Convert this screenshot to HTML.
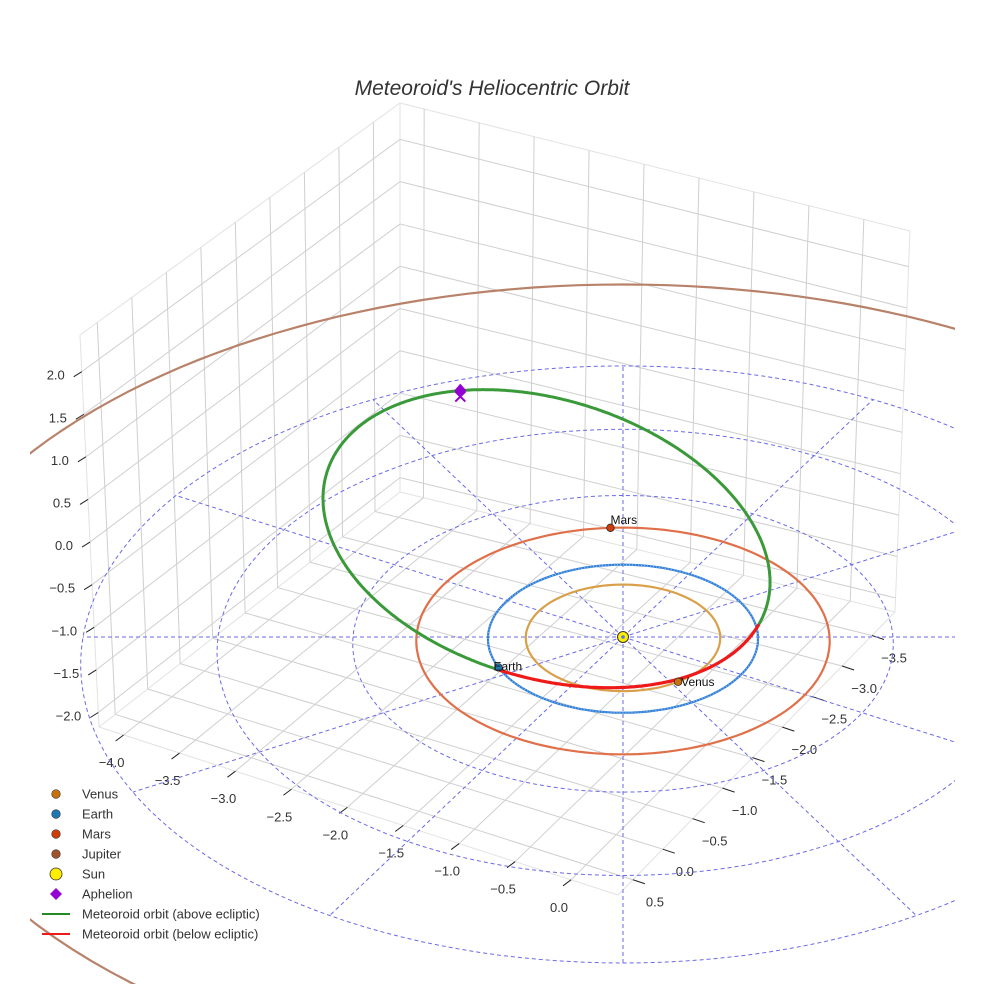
<!DOCTYPE html>
<html><head><meta charset="utf-8">
<style>
html,body{margin:0;padding:0;background:#fff;width:984px;height:984px;overflow:hidden;}
svg{display:block;font-family:"Liberation Sans",sans-serif;}
</style></head>
<body>
<svg id="chart" width="984" height="984" viewBox="0 0 984 984">
<defs><clipPath id="plotclip"><rect x="30" y="0" width="925" height="984"/></clipPath></defs>
<rect width="984" height="984" fill="#fff"/>
<text x="492" y="95" text-anchor="middle" font-size="21" font-style="italic" fill="#333">Meteoroid's Heliocentric Orbit</text>
<g id="grid"></g>
<g id="plot" clip-path="url(#plotclip)"></g>
<g id="legend"></g>
</svg>
<script>
// ---- axis data ----
const xTicks = [-4.0,-3.5,-3.0,-2.5,-2.0,-1.5,-1.0,-0.5,0.0];
const yTicks = [0.5,0.0,-0.5,-1.0,-1.5,-2.0,-2.5,-3.0,-3.5];
const zTicks = [2.0,1.5,1.0,0.5,0.0,-0.5,-1.0,-1.5,-2.0];
const xRange = [-4.22, 0.42];
const yRange = [-3.885, 0.75];
const zRange = [-2.17, 2.43];
// ---- planet data (AU, degrees) ----
const planetNames = ["Venus","Earth","Mars","Jupiter"];
const planetRadii = [0.72, 1.0, 1.53, 5.35];
const planetAngles = [-56, 204, 93.6, 250];
const planetOrbitColors = ["#d9a04a","#2f7ed8","#e0704a","#b8826a"];
const planetMarkerColors = ["#c8720f","#1f77b4","#cc3d0a","#a0522d"];
const gridRadii = [1,2,3,4];
const gridAngles = [0,30,60,90,120,150,180,210,240,270,300,330];
// ---- meteoroid orbit (AU): center, two axis vectors ----
const metCenter = [-0.578, 0.621, 0.646];
const metAxisP = [1.68, -0.099, -0.423];
const metAxisQ = [0.0, -1.099, -0.748];
const aphelionT = 4.30;

const NS="http://www.w3.org/2000/svg";
function mk(tag, attrs, parent){const e=document.createElementNS(NS,tag);for(const k in attrs)e.setAttribute(k,attrs[k]);parent.appendChild(e);return e;}
const grid=document.getElementById('grid'), plot=document.getElementById('plot'), legend=document.getElementById('legend');

// ---- box projection (bilinear on faces) ----
const Lb=[99,727],Fb=[618,895],Rb=[895,612],Bb=[400,492],Lt=[80,335],Bt=[400,103],Rt=[910,231];
function bil(a,b,c,d,u,v){
  return [a[0]*(1-u)*(1-v)+b[0]*u*(1-v)+c[0]*u*v+d[0]*(1-u)*v, a[1]*(1-u)*(1-v)+b[1]*u*(1-v)+c[1]*u*v+d[1]*(1-u)*v];}
const ux=x=>(x-xRange[0])/(xRange[1]-xRange[0]);
const vy=y=>(yRange[1]-y)/(yRange[1]-yRange[0]);
const wz=z=>(z-zRange[0])/(zRange[1]-zRange[0]);
const floorP=(u,v)=>bil(Lb,Fb,Rb,Bb,u,v);
const leftP=(v,w)=>bil(Lb,Bb,Bt,Lt,v,w);
const rightP=(u,w)=>bil(Bb,Rb,Rt,Bt,u,w);
function gl(p,q,name,stroke,w){const l=mk('line',{x1:p[0],y1:p[1],x2:q[0],y2:q[1],stroke:stroke||'#cfcfcf','stroke-width':w||1},grid);
  
  return l;}
[[Lb,Fb],[Fb,Rb],[Rb,Bb],[Bb,Lb],[Lb,Lt],[Bb,Bt],[Rb,Rt],[Lt,Bt],[Bt,Rt]].forEach(e=>gl(e[0],e[1],'box-edge','#e2e2e2'));
xTicks.forEach(x=>{const u=ux(x);gl(floorP(u,0),floorP(u,1),'floor-gridline-x');gl(rightP(u,0),rightP(u,1),'wall-gridline-x');});
yTicks.forEach(y=>{const v=vy(y);gl(floorP(0,v),floorP(1,v),'floor-gridline-y');gl(leftP(v,0),leftP(v,1),'wall-gridline-y');});
zTicks.forEach(z=>{const w=wz(z);gl(leftP(0,w),leftP(1,w),'left-wall-gridline-z');gl(rightP(0,w),rightP(1,w),'right-wall-gridline-z');});
function tl(x,y,s,anchor,name){const t=mk('text',{x:x,y:y,'font-size':13,fill:'#333','text-anchor':anchor},grid);t.textContent=s;
  
  }
const fmt=v=>(v<0?'\u2212':'')+Math.abs(v).toFixed(1);
xTicks.forEach(x=>{const p=floorP(ux(x),0);gl(p,[p[0]-8,p[1]+6],'x-tick','#222');tl(p[0]-12,p[1]+32,fmt(x),'middle','x-tick-label');});
yTicks.forEach(y=>{const p=floorP(1,vy(y));gl(p,[p[0]+12,p[1]+4],'y-tick','#222');tl(p[0]+22,p[1]+27,fmt(y),'middle','y-tick-label');});
zTicks.forEach(z=>{const p=leftP(0,wz(z));gl(p,[p[0]-8,p[1]+5],'z-tick','#222');tl(p[0]-17,p[1]+8,fmt(z),'end','z-tick-label');});

// ---- ecliptic projection ----
const SX=623,SY=637,KX=135,KA=74,KB=0.023,KZ=85;
function proj(x,y,z){const d=1+KB*y;return [SX+KX*x/d, SY-KA*y/d-KZ*z];}
function polar(r,deg){const a=deg*Math.PI/180;return proj(r*Math.cos(a),r*Math.sin(a),0);}
function circlePath(r){let s='';for(let i=0;i<=360;i+=2){const p=polar(r,i);s+=(i?'L':'M')+p[0].toFixed(1)+' '+p[1].toFixed(1);}return s+'Z';}

gridRadii.forEach(r=>{const e=mk('path',{d:circlePath(r),fill:'none',stroke:'#6a6ae8','stroke-width':1,'stroke-dasharray':'4,3'},plot);
  
  });
gridAngles.forEach(a=>{const p=polar(4,a);const e=mk('line',{x1:SX,y1:SY,x2:p[0],y2:p[1],stroke:'#6a6ae8','stroke-width':1,'stroke-dasharray':'4,3'},plot);
  
  });

planetNames.forEach((n,i)=>{
  const o=mk('path',{d:circlePath(planetRadii[i]),fill:'none',stroke:planetOrbitColors[i],'stroke-width':2.2},plot);
  
  
  if(n==='Earth'){const o2=mk('path',{d:circlePath(planetRadii[i]),fill:'none',stroke:'#8cbcec','stroke-width':1.2,'stroke-dasharray':'1,2'},plot);
    
    }
});

function metPt(t){const c=Math.cos(t),s=Math.sin(t);return [0,1,2].map(k=>metCenter[k]+metAxisP[k]*c+metAxisQ[k]*s);}
let seg=[],segAbove=null;
function flush(){if(seg.length>1){const d='M'+seg.map(p=>p[0].toFixed(1)+' '+p[1].toFixed(1)).join('L');
  const e=mk('path',{d:d,fill:'none',stroke:segAbove?'#3a9a3a':'#ee1a1a','stroke-width':segAbove?3:3.2,'stroke-linecap':'round'},plot);
  
  }}
for(let i=0;i<=720;i++){const t=i/720*2*Math.PI;const q=metPt(t);const above=q[2]>=0;const p=proj(q[0],q[1],q[2]);
  if(segAbove===null)segAbove=above;
  if(above!==segAbove){seg.push(p);flush();seg=[p];segAbove=above;}else seg.push(p);}
flush();

planetNames.forEach((n,i)=>{const p=polar(planetRadii[i],planetAngles[i]);
  const c=mk('circle',{cx:p[0],cy:p[1],r:3.8,fill:planetMarkerColors[i],stroke:'#222','stroke-width':0.7},plot);
  
  
  const t=mk('text',{x:p[0]+(n==='Mars'?0:(n==='Earth'?-5:3)),y:p[1]+(n==='Mars'?-4:(n==='Earth'?3:4)),'font-size':12,fill:'#111'},plot);
  t.textContent=n;
  
  });
const sun=mk('circle',{cx:SX,cy:SY,r:5.5,fill:'#ffee00',stroke:'#333','stroke-width':1},plot);


const sc=mk('circle',{cx:SX,cy:SY,r:1.8,fill:'#5577ee'},plot);


const ap=metPt(aphelionT), aps=proj(ap[0],ap[1],ap[2]);
const apx=mk('path',{d:`M${aps[0]-5} ${aps[1]+1}L${aps[0]+5} ${aps[1]+11}M${aps[0]+5} ${aps[1]+1}L${aps[0]-5} ${aps[1]+11}`,stroke:'#9400d3','stroke-width':2},plot);


const apd=mk('path',{d:`M${aps[0]} ${aps[1]-7}L${aps[0]+6} ${aps[1]}L${aps[0]} ${aps[1]+7}L${aps[0]-6} ${aps[1]}Z`,fill:'#9400d3'},plot);



const legLabels=["Venus","Earth","Mars","Jupiter","Sun","Aphelion","Meteoroid orbit (above ecliptic)","Meteoroid orbit (below ecliptic)"];
const legColors=["#c8720f","#1f77b4","#cc3d0a","#a0522d","#ffee00","#9400d3","#228b22","#ee1a1a"];
const legKinds=["dot","dot","dot","dot","sun","diamond","line","line"];
legLabels.forEach((lab,i)=>{const y=794+i*20;
  const g=mk('g',{},legend);
  
  
  const k=legKinds[i];
  if(k==='dot')mk('circle',{cx:56,cy:y,r:4.3,fill:legColors[i],stroke:'#333','stroke-width':0.6},g);
  else if(k==='sun')mk('circle',{cx:56,cy:y,r:6,fill:legColors[i],stroke:'#333','stroke-width':0.8},g);
  else if(k==='diamond')mk('path',{d:`M56 ${y-6}L62 ${y}L56 ${y+6}L50 ${y}Z`,fill:legColors[i]},g);
  else mk('line',{x1:42,y1:y,x2:70,y2:y,stroke:legColors[i],'stroke-width':2},g);
  const t=mk('text',{x:82,y:y+4.5,'font-size':13,fill:'#333'},g);t.textContent=lab;});
</script>
</body></html>
